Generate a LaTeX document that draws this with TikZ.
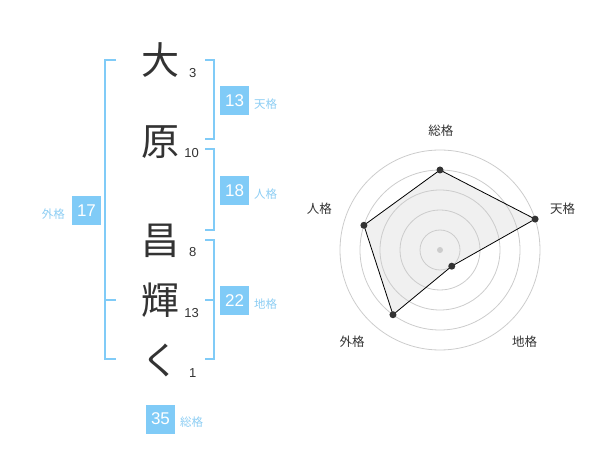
\documentclass[tikz,border=0pt]{standalone}
\usepackage{fontspec}
\setmainfont{Liberation Sans}
\newfontfamily\jpfont{Noto Sans CJK JP}
\definecolor{kakublue}{HTML}{80CBF7}
\definecolor{kakulabel}{HTML}{8CCDF3}
\definecolor{inkgray}{HTML}{333333}
\definecolor{ringgray}{HTML}{CCCCCC}
\definecolor{areagray}{HTML}{F0F0F0}

\begin{document}
\begin{tikzpicture}[x=1pt,y=-1pt,
  moji/.style={text=inkgray,font=\jpfont\fontsize{38}{40}\selectfont,inner sep=0pt},
  kakusu/.style={text=inkgray,font=\fontsize{13}{14}\selectfont,inner sep=0pt},
  kakubox/.style={fill=kakublue,text=white,minimum size=29pt,inner sep=0pt,font=\fontsize{17}{18}\selectfont},
  kakuname/.style={text=kakulabel,font=\jpfont\fontsize{11.5}{12}\selectfont,inner sep=0pt},
  bracket/.style={draw=kakublue,line width=2pt},
  axisname/.style={text=inkgray,font=\jpfont\fontsize{12.5}{13}\selectfont,inner sep=0pt},
  ring/.style={draw=ringgray,line width=0.8pt}]

\useasboundingbox (0,0) rectangle (600,470);

\node [moji] (c1) at (160,60) {大};
\node [moji] (c2) at (160,142) {原};
\node [moji] (c3) at (160,241) {昌};
\node [moji] (c4) at (160,300) {輝};
\node [moji] (c5) at (160,360) {く};

\node [kakusu] (s1) at (192.7,72.7) {3};
\node [kakusu] (s2) at (191.7,152.7) {10};
\node [kakusu] (s3) at (192.7,252.3) {8};
\node [kakusu] (s4) at (191.7,312.7) {13};
\node [kakusu] (s5) at (192.7,372.7) {1};

\path [bracket]
    (116,60) -- (105,60) -- (105,359.5) -- (116,359.5)
    (105,300) -- (116,300)
;
\path [bracket] (205,60) -- (214.3,60) -- (214.3,139.3) -- (205,139.3);
\path [bracket] (205,149.3) -- (214.3,149.3) -- (214.3,230) -- (205,230);
\path [bracket]
    (205,240) -- (214.3,240) -- (214.3,359.5) -- (205,359.5)
    (205,300) -- (214.3,300)
;

\node [kakubox] (ten) at (234.5,100.5) {13};
\node [kakubox] (jin) at (234.5,190.5) {18};
\node [kakubox] (chi) at (234.5,300.5) {22};
\node [kakubox] (gai) at (86.5,210.5) {17};
\node [kakubox] (sou) at (160.5,419) {35};

\node [kakuname,anchor=west] (tenl) at (254,104) {天格};
\node [kakuname,anchor=west] (jinl) at (254,194) {人格};
\node [kakuname,anchor=west] (chil) at (254,304) {地格};
\node [kakuname,anchor=east] (gail) at (65,214) {外格};
\node [kakuname,anchor=west] (soul) at (180,422.3) {総格};

\begin{scope}[shift={(440,250)},yscale=-1]
\coordinate (psou) at (90:80);
\coordinate (pten) at (18:100);
\coordinate (pchi) at (-54:20);
\coordinate (pgai) at (-126:80);
\coordinate (pjin) at (162:80);

\fill [areagray] (psou) -- (pten) -- (pchi) -- (pgai) -- (pjin) -- cycle;
\path [ring] (0,0) circle (20) circle (40) circle (60) circle (80) circle (100);
\path [draw=black,line width=0.8pt]
    (psou) -- (pten) -- (pchi) -- (pgai) -- (pjin) -- cycle
;
\fill [ringgray] (0,0) circle (3pt);
\fill [inkgray]
    (psou) circle (3.5pt) (pten) circle (3.5pt) (pchi) circle (3.5pt)
    (pgai) circle (3.5pt) (pjin) circle (3.5pt)
;

\node [axisname] (asou) at (0.8,119.2) {総格};
\node [axisname] (aten) at (122.5,41.5) {天格};
\node [axisname] (ajin) at (-120.7,41.5) {人格};
\node [axisname] (agai) at (-88,-91.7) {外格};
\node [axisname] (achi) at (84.5,-91.7) {地格};
\end{scope}

\end{tikzpicture}
\end{document}
